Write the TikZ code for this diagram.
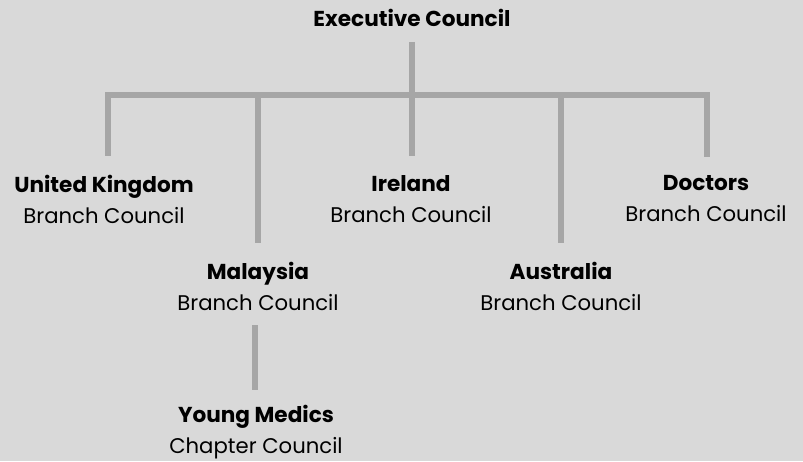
\documentclass[tikz,border=0pt]{standalone}
\usepackage{fontspec}
\setmainfont{Poppins}
\usetikzlibrary{positioning,calc}

\definecolor{bgGray}{HTML}{D9D9D9}
\definecolor{treeGray}{HTML}{A6A6A6}

\newcommand{\unitname}[1]{{\fontsize{21.6}{31}\selectfont\bfseries #1}}

\begin{document}
\begin{tikzpicture}[x=1pt, y=-1pt]
	\fill[bgGray] (0,0) rectangle (803,461);
	\useasboundingbox (0,0) rectangle (803,461);
	\begin{scope}
		\tikzstyle{every node}=[align=center, inner sep=1pt, font=\fontsize{21.2}{31}\selectfont]
		\tikzstyle{branch}=[draw=treeGray, line width=6pt]
		\node (exec) at (412, 18) {\unitname{Executive Council}};
		\node (uk) at (104, 199) {\unitname{United Kingdom}\\Branch Council};
		\node (mal) at (258, 286) {\unitname{Malaysia}\\Branch Council};
		\node (ire) at (411, 199) {\unitname{Ireland}\\Branch Council};
		\node (aus) at (561, 286) {\unitname{Australia}\\Branch Council};
		\node (doc) at (706, 199) {\unitname{Doctors}\\Branch Council};
		\node (ym) at (256, 432) {\unitname{Young Medics}\\Chapter Council};

		\coordinate (hub) at (412, 95);
		\coordinate (barL) at (108, 95);
		\coordinate (barR) at (707, 95);
		\coordinate (ymTop) at (255, 325);
		\coordinate (ymEnd) at (255, 390);

		\draw[branch, shorten <=14pt]  (exec) to (hub);
		\draw[branch]  ($(barL)+(-3,0)$) to ($(barR)+(3,0)$);
		\draw[branch, shorten >=18pt]  (barL) to (barL |- uk.north);
		\draw[branch, shorten >=18pt]  (258, 95) to (mal.north);
		\draw[branch, shorten >=18pt]  (hub) to (hub |- ire.north);
		\draw[branch, shorten >=18pt]  (561, 95) to (aus.north);
		\draw[branch, shorten >=18pt]  (barR) to (barR |- doc.north);
		\draw[branch]  (ymTop) to (ymEnd);
	\end{scope}
\end{tikzpicture}
\end{document}
